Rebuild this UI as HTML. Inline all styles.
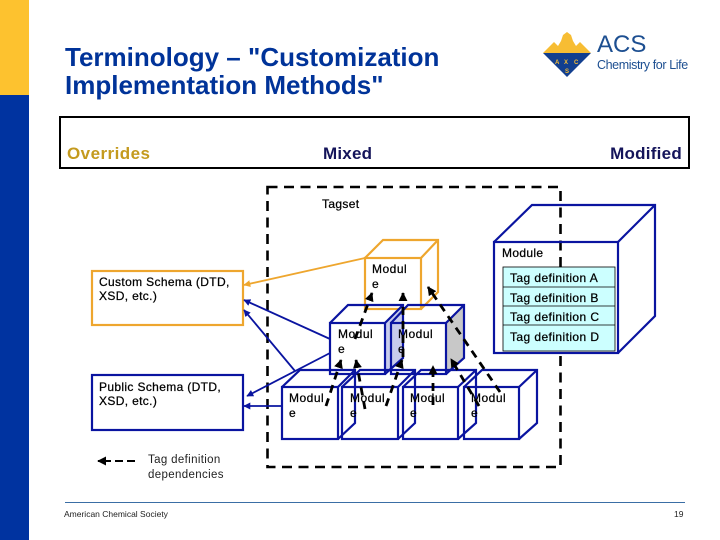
<!DOCTYPE html>
<html><head><meta charset="utf-8"><style>
html,body{margin:0;padding:0;background:#fff}
svg{display:block}
text{font-family:"Liberation Sans",sans-serif}
.m{font-size:12px;letter-spacing:.5px;fill:#000;stroke:#000;stroke-width:.25}
.s{font-size:12px;letter-spacing:.35px;fill:#000;stroke:#000;stroke-width:.25}
.t{font-size:12px;letter-spacing:.42px;fill:#000;stroke:#000;stroke-width:.25}
.d{fill:none;stroke:#000;stroke-width:2.8;stroke-dasharray:8 6}
</style></head><body>
<svg width="720" height="540" viewBox="0 0 720 540" xmlns="http://www.w3.org/2000/svg">
<defs>
<marker id="k" viewBox="0 0 10 10" refX="9" refY="5" markerWidth="9" markerHeight="9" markerUnits="userSpaceOnUse" orient="auto"><path d="M0 0L10 5L0 10z" fill="#000"/></marker>
<marker id="b" viewBox="0 0 10 10" refX="9" refY="5" markerWidth="7" markerHeight="7" markerUnits="userSpaceOnUse" orient="auto"><path d="M0 0L10 5L0 10z" fill="#0a14a0"/></marker>
<marker id="o" viewBox="0 0 10 10" refX="9" refY="5" markerWidth="7" markerHeight="7" markerUnits="userSpaceOnUse" orient="auto"><path d="M0 0L10 5L0 10z" fill="#eea62e"/></marker>
</defs>
<rect x="0" y="0" width="29" height="95" fill="#fdc22f"/>
<rect x="0" y="95" width="29" height="445" fill="#0033a0"/>
<text x="65" y="66" font-size="26" font-weight="bold" fill="#003399">Terminology – "Customization</text>
<text x="65" y="94" font-size="26" font-weight="bold" fill="#003399">Implementation Methods"</text>

<!-- logo -->
<path d="M543 53L591 53L567 77Z" fill="#123f8f"/>
<path d="M543 53L554 42L558 46L561 41L563 35L567 32L571 35L573 41L576 46L580 42L591 53Z" fill="#f7bd33"/>
<text x="555" y="64" font-size="6" font-weight="bold" fill="#f7bd33">A</text>
<text x="564" y="64" font-size="6" font-weight="bold" fill="#f7bd33">X</text>
<text x="574" y="64" font-size="6" font-weight="bold" fill="#f7bd33">C</text>
<text x="565" y="73" font-size="6" font-weight="bold" fill="#f7bd33">S</text>
<text x="597" y="52" font-size="24" fill="#1d4f91">ACS</text>
<text x="597" y="69" font-size="12.500" letter-spacing="-.4" fill="#1d4f91">Chemistry for Life</text>

<rect x="60" y="117" width="629" height="51" fill="none" stroke="#000" stroke-width="2"/>
<text x="67" y="159" font-size="17" font-weight="bold" letter-spacing=".45" fill="#c49a1e">Overrides</text>
<text x="323" y="159" font-size="17" font-weight="bold" letter-spacing=".2" fill="#14145a">Mixed</text>
<text x="682" y="159" font-size="17" font-weight="bold" letter-spacing=".25" text-anchor="end" fill="#14145a">Modified</text>

<rect x="267.500" y="187" width="293" height="280" fill="none" stroke="#000" stroke-width="2.600" stroke-dasharray="10 6.500"/>
<text x="322" y="208" class="s">Tagset</text>

<!-- schema boxes -->
<rect x="92" y="271" width="151" height="54" fill="#fff" stroke="#eea62e" stroke-width="2.200"/>
<text x="99" y="286" class="s">Custom Schema (DTD,</text>
<text x="99" y="300" class="s">XSD, etc.)</text>
<rect x="92" y="375" width="151" height="55" fill="#fff" stroke="#0a14a0" stroke-width="2.200"/>
<text x="99" y="391" class="s">Public Schema (DTD,</text>
<text x="99" y="405" class="s">XSD, etc.)</text>

<!-- connectors -->
<g fill="none" stroke-width="1.800">
<line x1="365" y1="258" x2="244" y2="285" stroke="#eea62e" marker-end="url(#o)"/>
<g stroke="#0a14a0">
<line x1="330" y1="339" x2="244" y2="300" marker-end="url(#b)"/>
<line x1="295" y1="371" x2="244" y2="310" marker-end="url(#b)"/>
<line x1="330" y1="353" x2="247" y2="396" marker-end="url(#b)"/>
<line x1="282" y1="406" x2="244" y2="406" marker-end="url(#b)"/>
</g></g>

<!-- big module -->
<g fill="none" stroke="#0a14a0" stroke-width="2.200">
<path d="M494 242L532 205H655V316L618 353"/>
<path d="M618 242L655 205"/>
<rect x="494" y="242" width="124" height="111"/>
</g>
<text x="502" y="257" class="s">Module</text>
<rect x="503" y="267" width="112" height="84" fill="#ccffff" stroke="#000" stroke-width=".8"/>
<path d="M503 287H615M503 306H615M503 325H615" stroke="#000" stroke-width=".8"/>
<text x="510" y="282" class="t">Tag definition A</text>
<text x="510" y="302" class="t">Tag definition B</text>
<text x="510" y="321" class="t">Tag definition C</text>
<text x="510" y="341" class="t">Tag definition D</text>

<!-- orange cube -->
<g fill="none" stroke="#eea62e" stroke-width="2.200">
<rect x="365" y="258" width="56" height="51"/>
<path d="M365 258L383 240H438V292L421 309M421 258L438 240"/>
</g>
<text x="372" y="273" class="m">Modul</text>
<text x="372" y="288" class="m">e</text>

<!-- row 2 cubes -->
<path d="M385 323L403 305V358L385 374Z" fill="#c8ccec"/>
<path d="M446 323L464 305V358L446 374Z" fill="#c8c8c8"/>
<g fill="none" stroke="#0a14a0" stroke-width="2.200">
<rect x="330" y="323" width="55" height="51"/>
<path d="M330 323L348 305H403V358L385 374M385 323L403 305"/>
<rect x="391" y="323" width="55" height="51"/>
<path d="M391 323L408 305H464V358L446 374M446 323L464 305"/>
</g>
<text x="338" y="338" class="m">Modul</text>
<text x="338" y="353" class="m">e</text>
<text x="398" y="338" class="m">Modul</text>
<text x="398" y="353" class="m">e</text>

<!-- row 3 cubes -->
<g fill="none" stroke="#0a14a0" stroke-width="2.200">
<rect x="282" y="387" width="56" height="52"/>
<path d="M282 387L300 370H355V423L338 439M338 387L355 370"/>
<rect x="342" y="387" width="56" height="52"/>
<path d="M342 387L360 370H415V423L398 439M398 387L415 370"/>
<rect x="403" y="387" width="55" height="52"/>
<path d="M403 387L421 370H476V423L458 439M458 387L476 370"/>
<rect x="464" y="387" width="55" height="52"/>
<path d="M464 387L482 370H537V423L519 439M519 387L537 370"/>
</g>
<text x="289" y="402" class="m">Modul</text>
<text x="289" y="417" class="m">e</text>
<text x="350" y="402" class="m">Modul</text>
<text x="350" y="417" class="m">e</text>
<text x="410" y="402" class="m">Modul</text>
<text x="410" y="417" class="m">e</text>
<text x="471" y="402" class="m">Modul</text>
<text x="471" y="417" class="m">e</text>

<!-- dashed dependencies -->
<line class="d" x1="355" y1="339" x2="372" y2="293" marker-end="url(#k)"/>
<line class="d" x1="403" y1="357" x2="403" y2="293" marker-end="url(#k)"/>
<line class="d" x1="500" y1="392" x2="428" y2="287" marker-end="url(#k)"/>
<line class="d" x1="326" y1="406" x2="341" y2="360" marker-end="url(#k)"/>
<line class="d" x1="365" y1="409" x2="356" y2="360" marker-end="url(#k)"/>
<line class="d" x1="386" y1="406" x2="402" y2="360" marker-end="url(#k)"/>
<line class="d" x1="433" y1="405" x2="433" y2="366" marker-end="url(#k)"/>
<line class="d" x1="479" y1="406" x2="451" y2="359" marker-end="url(#k)"/>

<!-- legend -->
<line x1="135" y1="461" x2="98" y2="461" stroke="#000" stroke-width="2" stroke-dasharray="8 4" marker-end="url(#k)"/>
<text x="148" y="463" font-size="11.500" letter-spacing=".35" fill="#222">Tag definition</text>
<text x="148" y="478" font-size="11.500" letter-spacing=".35" fill="#222">dependencies</text>

<!-- footer -->
<line x1="65" y1="502.500" x2="685" y2="502.500" stroke="#3a6ea5" stroke-width="1"/>
<text x="64" y="517" font-size="8.500" fill="#222">American Chemical Society</text>
<text x="674" y="517" font-size="8.500" fill="#222">19</text>
</svg>
</body></html>
